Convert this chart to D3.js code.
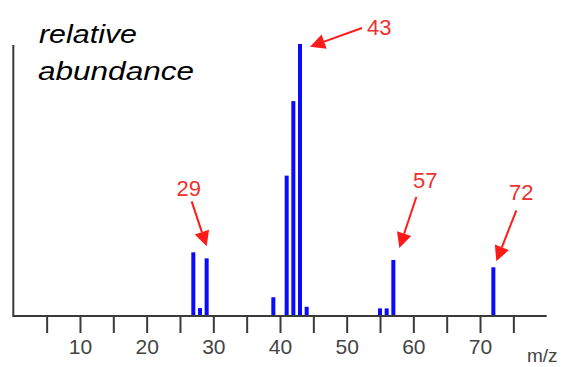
<!DOCTYPE html>
<html><head><meta charset="utf-8">
<script src="https://cdn.jsdelivr.net/npm/d3@7"></script>
<style>body{margin:0;background:#fff}svg{display:block}</style>
</head><body>
<svg id="chart" width="563" height="367"></svg>
<script>
// m/z values and relative abundances
const mz = [27, 28, 29, 39, 41, 42, 43, 44, 55, 56, 57, 72];
const abundance = [23.4, 2.9, 21.2, 6.9, 51.6, 79, 100, 3.4, 2.8, 2.8, 20.6, 17.9];
const tickValues = [5, 10, 15, 20, 25, 30, 35, 40, 45, 50, 55, 60, 65, 70, 75];
const tickLabels = ["", "10", "", "20", "", "30", "", "40", "", "50", "", "60", "", "70", ""];
const labelPeaks = [29, 43, 57, 72];

const svg = d3.select("#chart");
const x = d3.scaleLinear().domain([0, 80]).range([13.3, 546.7]);
const y = d3.scaleLinear().domain([0, 100]).range([316, 44]);
const axisColor = "#3a3a3a";

// bars
svg.selectAll("rect.bar").data(mz).join("rect")
  .attr("class", "bar")
  .attr("x", d => x(d) - 2)
  .attr("width", 4)
  .attr("y", (d, i) => y(abundance[i]))
  .attr("height", (d, i) => y(0) - y(abundance[i]))
  .attr("fill", "#0a0aff");

// x axis
const xAxis = d3.axisBottom(x).tickValues(tickValues)
  .tickSize(17).tickPadding(6)
  .tickFormat((d, i) => tickLabels[i]);
const gx = svg.append("g").attr("transform", `translate(0,${y(0)})`).call(xAxis);
gx.select(".domain").remove();
gx.selectAll(".tick line").attr("stroke", axisColor).attr("stroke-width", 2);
gx.selectAll(".tick text").attr("fill", "#444").attr("font-family", "Liberation Sans, Arial, sans-serif")
  .attr("font-size", 21).attr("dy", "0.71em");
svg.append("line").attr("x1", x(0)).attr("x2", x(80)).attr("y1", y(0)).attr("y2", y(0))
  .attr("stroke", axisColor).attr("stroke-width", 2);
// y axis line
svg.append("line").attr("x1", x(0)).attr("x2", x(0)).attr("y1", y(0) + 1).attr("y2", y(99.6))
  .attr("stroke", axisColor).attr("stroke-width", 2);

// axis titles
svg.append("text").attr("x", 527).attr("y", 362).text("m/z")
  .attr("font-family", "Liberation Sans, Arial, sans-serif").attr("font-size", 19).attr("fill", "#444");
const yt = svg.append("text").attr("font-family", "Liberation Sans, Arial, sans-serif")
  .attr("font-style", "italic").attr("font-size", 25).attr("fill", "#000");
yt.append("tspan").attr("x", 39).attr("y", 43).text("relative")
  .attr("textLength", 98).attr("lengthAdjust", "spacingAndGlyphs");
yt.append("tspan").attr("x", 38).attr("y", 80).text("abundance")
  .attr("textLength", 156).attr("lengthAdjust", "spacingAndGlyphs");

// annotations (offsets from bar top, in px)
const annOffsets = {
  29: {lx: -18, ly: -62, sx: -15, sy: -57, tx: 0, ty: -12, anchor: "middle"},
  43: {lx: 67, ly: -9, sx: 62, sy: -16, tx: 10, ty: 2.7, anchor: "start"},
  57: {lx: 32, ly: -72, sx: 23, sy: -63, tx: 6, ty: -12, anchor: "middle"},
  72: {lx: 28, ly: -67, sx: 23, sy: -57, tx: 3, ty: -6, anchor: "middle"}
};
const red = "#ff1a1a";
labelPeaks.forEach(p => {
  const i = mz.indexOf(p);
  const bx = x(p), by = y(abundance[i]);
  const o = annOffsets[p];
  const sx = bx + o.sx, sy = by + o.sy, tx = bx + o.tx, ty = by + o.ty;
  const ang = Math.atan2(ty - sy, tx - sx);
  const hl = 15, hw = 7.5;
  const bxh = tx - hl * Math.cos(ang), byh = ty - hl * Math.sin(ang);
  svg.append("line").attr("x1", sx).attr("y1", sy).attr("x2", bxh).attr("y2", byh)
    .attr("stroke", red).attr("stroke-width", 2);
  const px = -Math.sin(ang), py = Math.cos(ang);
  svg.append("path").attr("fill", red)
    .attr("d", `M${tx},${ty}L${bxh + px * hw},${byh + py * hw}L${bxh - px * hw},${byh - py * hw}Z`);
  svg.append("text").attr("x", bx + o.lx).attr("y", by + o.ly).attr("text-anchor", o.anchor)
    .attr("font-family", "Liberation Sans, Arial, sans-serif").attr("font-size", 22)
    .attr("fill", "#f03030").text(String(p));
});
</script>
</body></html>
